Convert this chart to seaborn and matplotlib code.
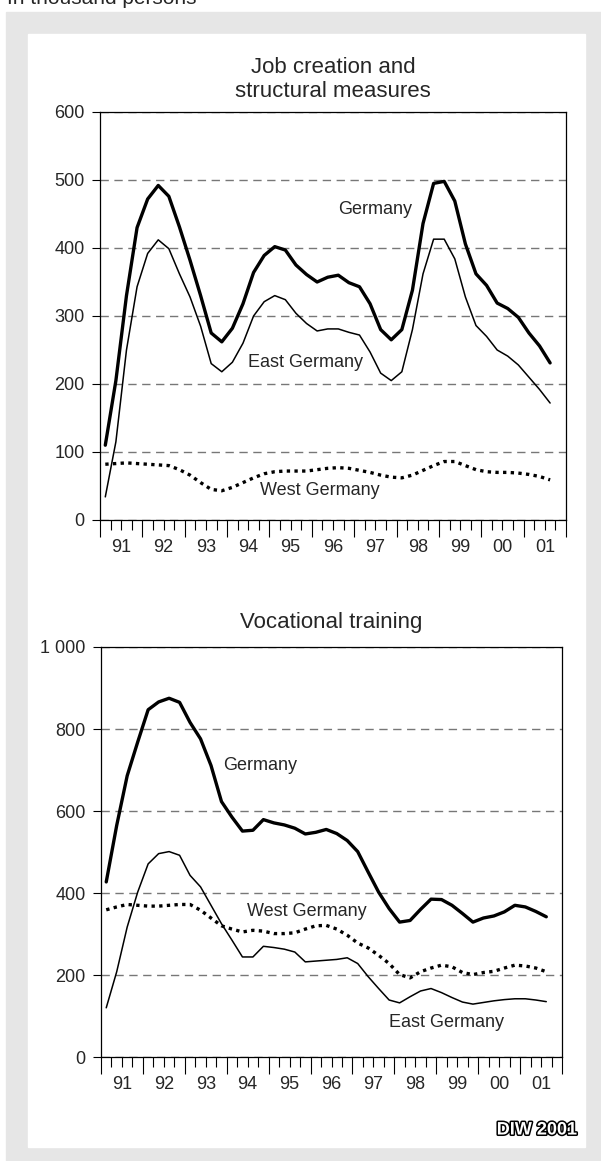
import numpy as np
import pandas as pd
import matplotlib
matplotlib.use("Agg")
import matplotlib.pyplot as plt
import matplotlib.patheffects as pe
from matplotlib.patches import Rectangle
from matplotlib.ticker import FixedLocator, FixedFormatter, NullFormatter
import seaborn as sns

# quarterly data, 1991 Q1 - 2001 Q3, in thousand persons
quarters = 1991 + (np.arange(43) + 0.5) / 4
year_labels = ["91", "92", "93", "94", "95", "96", "97", "98", "99", "00", "01"]

# Job creation and structural measures
job_germany = [110, 205, 330, 430, 472, 492, 476, 431, 382, 330, 275, 262, 282, 318, 364,
               389, 402, 397, 375, 361, 350, 357, 360, 349, 343, 318, 280, 265, 280, 338,
               436, 495, 498, 469, 406, 362, 345, 319, 311, 298, 275, 256, 231]
job_east = [34, 115, 250, 343, 392, 412, 399, 362, 328, 285, 230, 218, 232, 260, 300,
            321, 330, 324, 304, 289, 278, 281, 281, 276, 272, 247, 216, 205, 218, 280,
            362, 413, 413, 384, 328, 286, 270, 250, 241, 228, 210, 192, 172]
job_west = [82, 83, 84, 83, 82, 81, 80, 74, 66, 55, 45, 43, 48, 55, 62,
            68, 71, 72, 72, 72, 74, 76, 77, 76, 73, 70, 66, 63, 62, 66,
            73, 80, 86, 86, 80, 74, 71, 70, 70, 69, 67, 64, 59]

# Vocational training
voc_germany = [427, 565, 686, 768, 847, 866, 875, 865, 816, 776, 711, 623, 585, 551, 553,
               579, 571, 566, 558, 544, 548, 555, 545, 528, 501, 451, 402, 362, 329, 333,
               360, 385, 384, 370, 350, 329, 339, 344, 354, 370, 366, 355, 342]
voc_east = [120, 208, 317, 402, 471, 496, 501, 492, 443, 415, 370, 325, 285, 244, 244,
            270, 267, 263, 256, 232, 234, 236, 238, 242, 228, 196, 167, 139, 132, 147,
            161, 167, 157, 145, 134, 129, 133, 137, 140, 142, 142, 139, 135]
voc_west = [359, 366, 372, 370, 368, 368, 370, 372, 372, 358, 339, 320, 312, 305, 309,
            307, 301, 301, 303, 312, 320, 321, 312, 297, 278, 266, 248, 228, 201, 193,
            208, 217, 224, 220, 206, 201, 206, 209, 217, 224, 222, 217, 208]

sns.set_theme(style="white")
plt.rcParams["font.family"] = ["Liberation Sans", "DejaVu Sans"]

W, H = 601, 1161
fig = plt.figure(figsize=(W / 100, H / 100), dpi=100)
fig.patch.set_facecolor("white")

# grey frame and white card
fig.add_artist(Rectangle((6 / W, 0), (W - 6) / W, (H - 12) / H,
                         transform=fig.transFigure, color="#e6e6e6", zorder=0))
fig.add_artist(Rectangle((28 / W, 1 - 1147 / H), (585 - 28) / W, (1147 - 34) / H,
                         transform=fig.transFigure, color="white", zorder=0))


def px_rect(left, top, right, bottom):
    return [left / W, 1 - bottom / H, (right - left) / W, (bottom - top) / H]


def panel(rect, germany, east, west, ylim, yticks, yticklabels, title, title_pad, labels):
    ax = fig.add_axes(rect)
    df = pd.DataFrame({"x": quarters, "germany": germany, "east": east, "west": west})
    sns.lineplot(data=df, x="x", y="germany", ax=ax, color="black", linewidth=2.4)
    sns.lineplot(data=df, x="x", y="east", ax=ax, color="black", linewidth=1.1)
    sns.lineplot(data=df, x="x", y="west", ax=ax, color="black", linewidth=2.4,
                 linestyle=(0, (1, 1.3)), dash_capstyle="butt")

    ax.set_xlim(1991, 2002)
    ax.set_ylim(*ylim)
    ax.set_xlabel("")
    ax.set_ylabel("")

    ax.xaxis.set_major_locator(FixedLocator(range(1991, 2003)))
    ax.xaxis.set_major_formatter(NullFormatter())
    minor_pos, minor_lab = [], []
    for i, yr in enumerate(range(1991, 2002)):
        minor_pos += [yr + 0.25, yr + 0.5, yr + 0.75]
        minor_lab += ["", year_labels[i], ""]
    ax.xaxis.set_minor_locator(FixedLocator(minor_pos))
    ax.xaxis.set_minor_formatter(FixedFormatter(minor_lab))
    ax.tick_params(axis="x", which="major", direction="out", length=12, width=0.8,
                   color="black", bottom=True)
    ax.tick_params(axis="x", which="minor", direction="out", length=7, width=0.8,
                   color="black", bottom=True, pad=7, labelsize=13)

    ax.set_yticks(yticks)
    ax.set_yticklabels(yticklabels)
    ax.tick_params(axis="y", direction="out", length=6, width=0.8, color="black",
                   left=True, pad=5, labelsize=13)

    ax.grid(False)
    ax.yaxis.grid(True, linestyle=(0, (6, 4)), color="#777777", linewidth=1.0)
    ax.set_axisbelow(True)
    for s in ax.spines.values():
        s.set_visible(True)
        s.set_color("black")
        s.set_linewidth(0.9)

    ax.set_title(title, fontsize=16, pad=title_pad, linespacing=1.15)
    for (tx, ty, s) in labels:
        ax.text(tx, ty, s, ha="center", va="center", fontsize=13)
    return ax


panel(px_rect(100, 112, 566, 520), job_germany, job_east, job_west,
      (0, 600), [0, 100, 200, 300, 400, 500, 600],
      ["0", "100", "200", "300", "400", "500", "600"],
      "Job creation and\nstructural measures", 11,
      [(1997.49, 457, "Germany"), (1995.84, 232, "East Germany"),
       (1996.19, 43, "West Germany")])

panel(px_rect(101, 647, 562, 1057), voc_germany, voc_east, voc_west,
      (0, 1000), [0, 200, 400, 600, 800, 1000],
      ["0", "200", "400", "600", "800", "1 000"],
      "Vocational training", 14,
      [(1994.79, 710, "Germany"), (1995.91, 356, "West Germany"),
       (1999.24, 83, "East Germany")])

fig.text(7 / W, 1 - 4 / H, "In thousand persons", fontsize=15, va="baseline", ha="left")
fig.text(577 / W, 1 - 1130 / H, "DIW 2001", fontsize=13, fontweight="bold",
         ha="right", va="center", color="white",
         path_effects=[pe.withStroke(linewidth=2.2, foreground="black")])

fig.savefig("out.png", dpi=100)
